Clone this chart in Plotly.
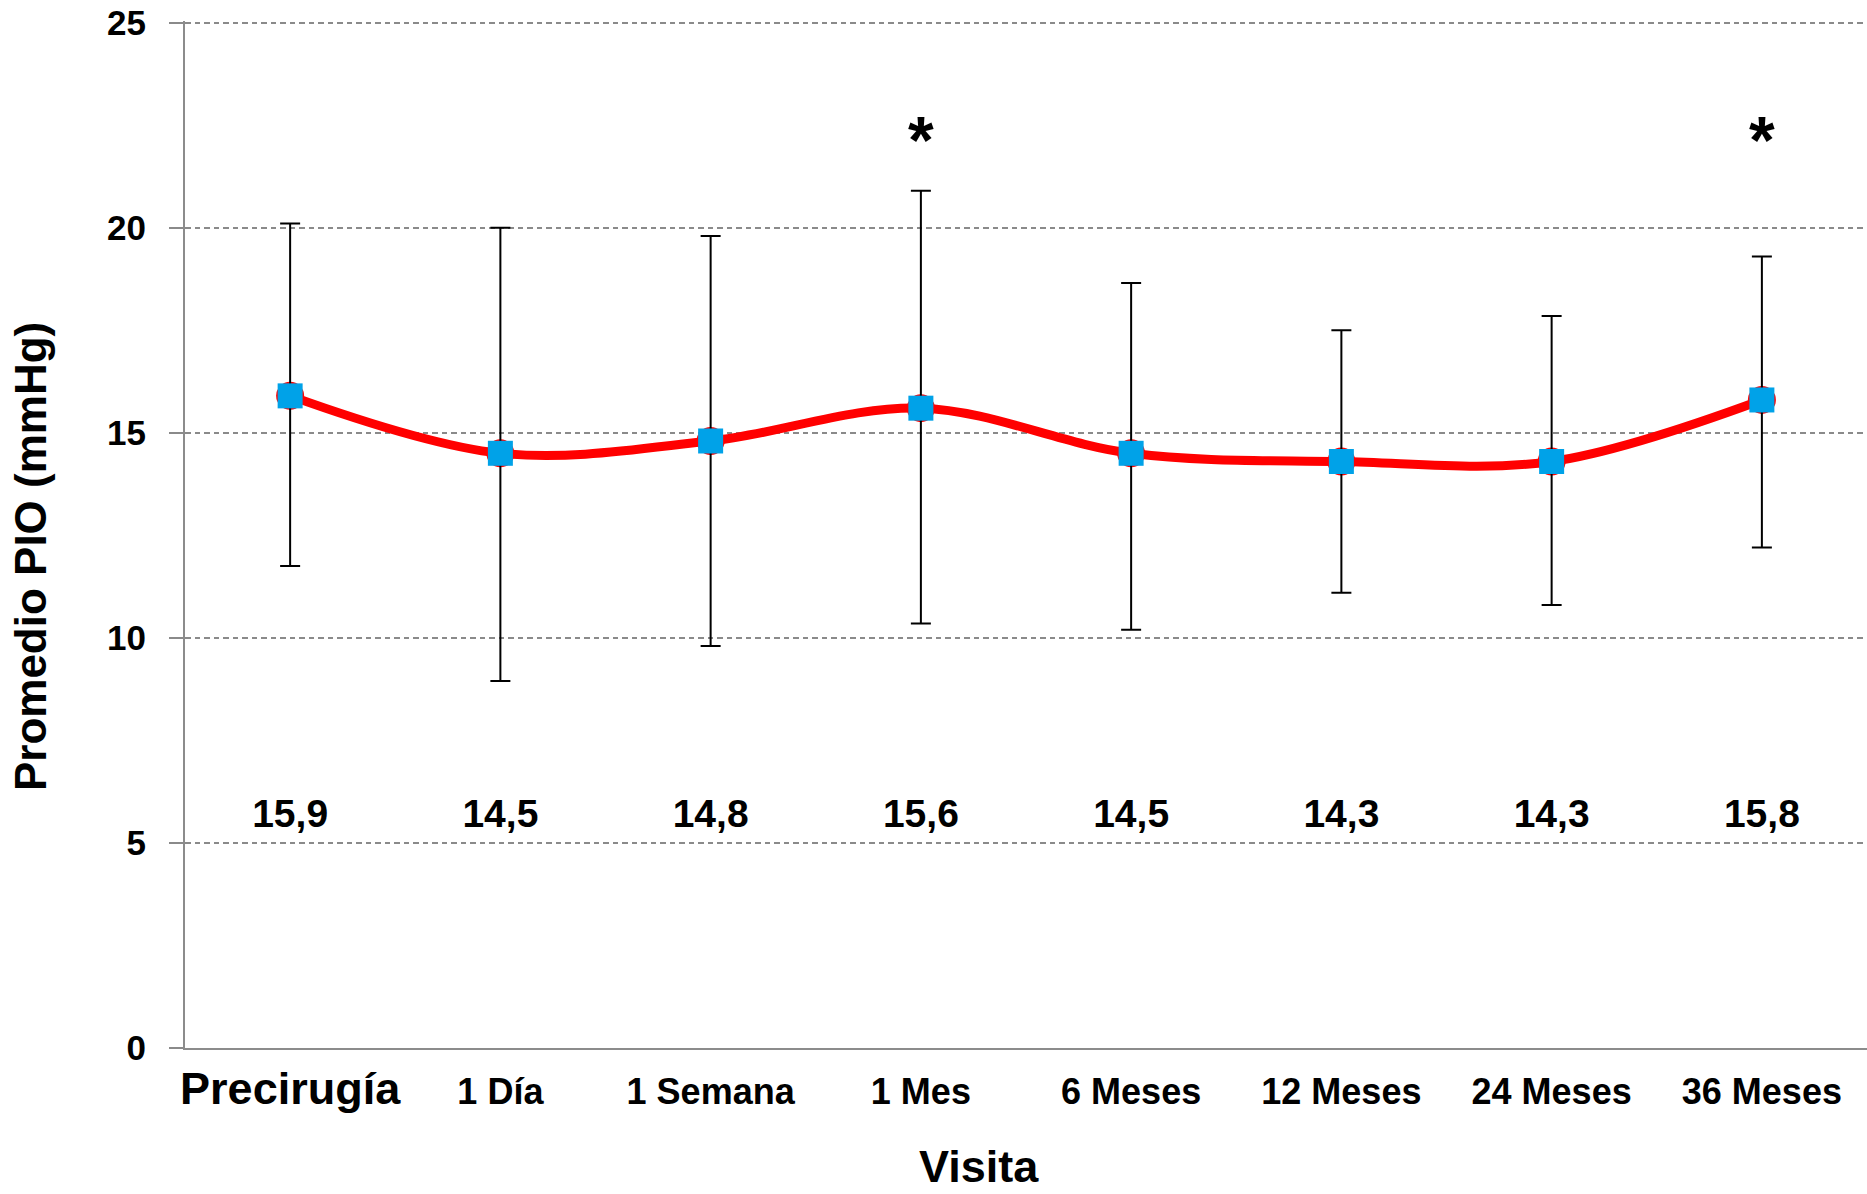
import plotly.graph_objects as go

categories = ["Precirugía", "1 Día", "1 Semana", "1 Mes", "6 Meses", "12 Meses", "24 Meses", "36 Meses"]
means = [15.9, 14.5, 14.8, 15.6, 14.5, 14.3, 14.3, 15.8]
upper = [20.1, 20.0, 19.8, 20.9, 18.65, 17.5, 17.85, 19.3]
lower = [11.75, 8.95, 9.8, 10.35, 10.2, 11.1, 10.8, 12.2]
value_labels = ["15,9", "14,5", "14,8", "15,6", "14,5", "14,3", "14,3", "15,8"]
label_y = 5.62
star_categories = ["1 Mes", "36 Meses"]
star_y = 21.97
y_ticks = [0, 5, 10, 15, 20, 25]

err_plus = [u - m for u, m in zip(upper, means)]
err_minus = [m - l for m, l in zip(means, lower)]

FONT = "Liberation Sans, Arial, sans-serif"

fig = go.Figure()

# red smoothed line with red circle markers
fig.add_trace(go.Scatter(
    x=categories, y=means, mode="lines+markers",
    line=dict(color="#FF0000", width=9, shape="spline", smoothing=1),
    marker=dict(symbol="circle", size=28, color="#FF0000"),
    hoverinfo="skip", showlegend=False,
))

# blue squares with error bars
fig.add_trace(go.Scatter(
    x=categories, y=means, mode="markers",
    marker=dict(symbol="square", size=25, color="#00A2E8"),
    error_y=dict(type="data", symmetric=False, array=err_plus, arrayminus=err_minus,
                 color="black", thickness=2, width=10),
    showlegend=False,
))

# value labels
fig.add_trace(go.Scatter(
    x=categories, y=[label_y] * len(categories), mode="text",
    text=value_labels, textposition="middle center",
    textfont=dict(family=FONT, size=39, color="black", weight="bold"),
    hoverinfo="skip", showlegend=False,
))

# significance asterisks
fig.add_trace(go.Scatter(
    x=star_categories, y=[star_y] * len(star_categories), mode="text",
    text=["*"] * len(star_categories), textposition="middle center",
    textfont=dict(family=FONT, size=66, color="black", weight="bold"),
    hoverinfo="skip", showlegend=False,
))

tick_text = ['<span style="font-size:45px">Precirugía</span>'] + categories[1:]

fig.update_layout(
    width=1867, height=1194,
    margin=dict(l=185, r=0, t=21, b=146, autoexpand=False),
    plot_bgcolor="white", paper_bgcolor="white",
    font=dict(family=FONT, color="black"),
    xaxis=dict(
        type="category", range=[-0.5, 7.5], automargin=False,
        tickvals=categories, ticktext=tick_text,
        showline=True, linecolor="#8c8c8c", linewidth=2,
        ticks="", showgrid=False, zeroline=False,
        tickfont=dict(family=FONT, size=36, color="black", weight="bold"),
        ticklabelstandoff=11,
    ),
    yaxis=dict(
        range=[0, 25.04], tickvals=y_ticks, automargin=False,
        showgrid=True, gridcolor="#8a8a8a", griddash="5.5px,4px", gridwidth=2,
        showline=True, linecolor="#8c8c8c", linewidth=2,
        ticks="outside", ticklen=14, tickcolor="#8a8a8a", tickwidth=2,
        zeroline=False, ticklabeloverflow="allow",
        tickfont=dict(family=FONT, size=35, color="black", weight="bold"),
        ticklabelstandoff=16,
    ),
    annotations=[
        dict(text="Promedio PIO (mmHg)", xref="paper", yref="paper", x=0, y=0.478,
             xshift=-155, xanchor="center", yanchor="middle", textangle=-90, showarrow=False,
             font=dict(family=FONT, size=44, color="black", weight="bold")),
        dict(text="Visita", xref="paper", yref="paper", x=0.472, y=0,
             yshift=-118, xanchor="center", yanchor="middle", showarrow=False,
             font=dict(family=FONT, size=45, color="black", weight="bold")),
    ],
)

fig.write_html("out.html", config={"displayModeBar": False},
               post_script="document.body.style.margin='0px';")
